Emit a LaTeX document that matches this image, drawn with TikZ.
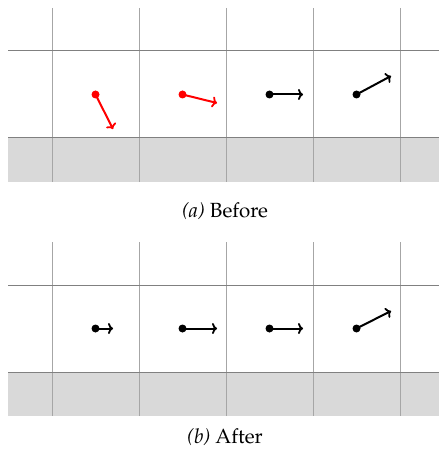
\documentclass[tikz,border=0pt]{standalone}
\usepackage[T1]{fontenc}
\usepackage{mathpazo}
\usetikzlibrary{arrows.meta}
\begin{document}
\begin{tikzpicture}[x=1pt,y=-1pt,
  gridv/.style={draw=black!35,line width=1pt},
  gridh/.style={draw=black!50,line width=1pt},
  ground/.style={fill=black!15,draw=none},
  dot/.style={circle,fill=#1,inner sep=0pt,minimum size=8pt},
  vec/.style={draw=#1,line width=2pt,-{To[length=5pt,width=11pt,line width=1.8pt]}},
  captext/.style={font=\fontsize{20.5}{24}\selectfont,anchor=base}]
\useasboundingbox (0,0) rectangle (439,454);
% panel a
\fill[ground] (8,138) rectangle (439,182);
\foreach \x in {52,139,226,313,400} \draw[gridv] (\x,8) -- (\x,182);
\foreach \y in {51,138} \draw[gridh] (8,\y) -- (439,\y);
% panel b
\fill[ground] (8,372) rectangle (439,416);
\foreach \x in {52,139,226,313,400} \draw[gridv] (\x,242) -- (\x,416);
\foreach \y in {285,372} \draw[gridh] (8,\y) -- (439,\y);
% vectors a
\node[dot=red] (a1) at (95.5,94.5) {};
\node[dot=red] (a2) at (182.5,94.5) {};
\node[dot=black] (a3) at (269.5,94.5) {};
\node[dot=black] (a4) at (356.5,94.5) {};
\coordinate (a1e) at (113,129);
\coordinate (a2e) at (217,103);
\coordinate (a3e) at (303,94.5);
\coordinate (a4e) at (391,76);
\draw[vec=red] (a1.center) -- (a1e);
\draw[vec=red] (a2.center) -- (a2e);
\draw[vec=black] (a3.center) -- (a3e);
\draw[vec=black] (a4.center) -- (a4e);
% vectors b
\node[dot=black] (b1) at (95.5,328.5) {};
\node[dot=black] (b2) at (182.5,328.5) {};
\node[dot=black] (b3) at (269.5,328.5) {};
\node[dot=black] (b4) at (356.5,328.5) {};
\coordinate (b1e) at (113,328.5);
\coordinate (b2e) at (217,328.5);
\coordinate (b3e) at (303,328.5);
\coordinate (b4e) at (391,311);
\draw[vec=black] (b1.center) -- (b1e);
\draw[vec=black] (b2.center) -- (b2e);
\draw[vec=black] (b3.center) -- (b3e);
\draw[vec=black] (b4.center) -- (b4e);
% captions
\node[captext] (capa) at (225,217) {\textit{(a)} Before};
\node[captext] (capb) at (225,443) {\textit{(b)} After};
\end{tikzpicture}
\end{document}
